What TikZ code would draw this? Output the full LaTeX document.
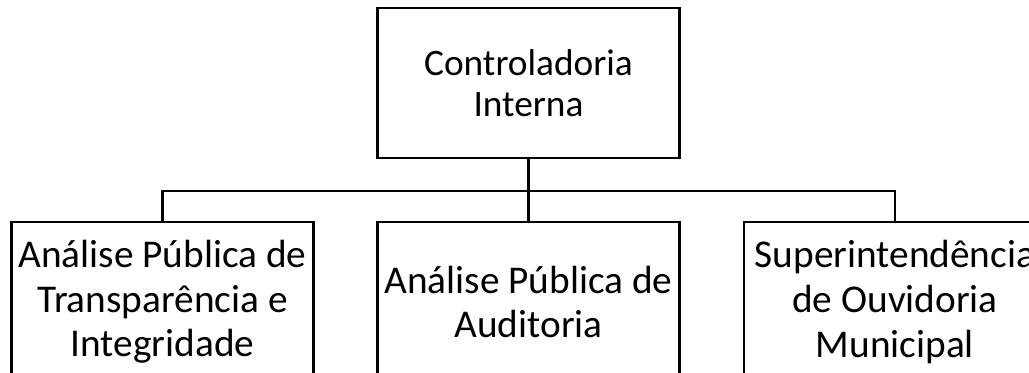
\documentclass[tikz,border=0pt]{standalone}
\usepackage{fontspec}
\setmainfont{Carlito}
\usetikzlibrary{positioning}

\tikzset{
  unitbox/.style={draw, line width=1.6pt, inner sep=0pt, align=center,
    minimum width=226.5pt},
  topbox/.style={unitbox, minimum height=112.5pt,
    font=\fontsize{28}{31}\selectfont},
  subbox/.style={unitbox, minimum height=120pt,
    font=\fontsize{29.5}{33.5}\selectfont},
  link/.style={line width=1.6pt}
}

\begin{document}
\begin{tikzpicture}[x=0.75pt,y=0.75pt,yscale=-1,xscale=1]
%set diagram left start at 0, and has height of 373
\useasboundingbox (0,0) rectangle (1029,373);
\clip (0,0) rectangle (1029,373);

%Shape: Rectangle [top]
\node [topbox] (ci) at (528.5,83) {Controladoria\\Interna};

%Shape: Rectangle [children]
\node [subbox] (apti) at (162.5,302) {Análise Pública de\\Transparência e\\Integridade};
\node [subbox] (apa) at (528.5,302) {Análise Pública de\\Auditoria};
\node [subbox] (som) at (895,302) {Superintendência\\de Ouvidoria\\Municipal};

%Straight Lines [bus]
\coordinate (bus) at (528.5,191);
\draw [link] (ci.south) -- (bus);
\draw [link] (apti.north) |- (bus) -| (som.north);
\draw [link] (apa.north) -- (bus);

\end{tikzpicture}
\end{document}
